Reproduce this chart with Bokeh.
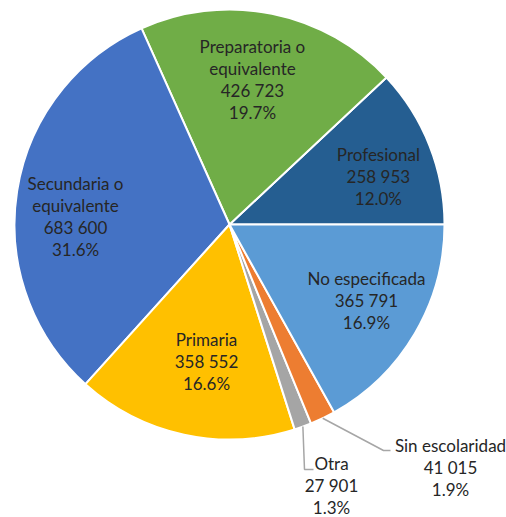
import math
from bokeh.plotting import figure
from bokeh.models import ColumnDataSource, Range1d
from bokeh.core.properties import value
from bokeh.embed import file_html
from bokeh.resources import INLINE

# ---- data (counter-clockwise from 3 o'clock) ----
categories = ["Profesional", "Preparatoria o\nequivalente", "Secundaria o\nequivalente",
              "Primaria", "Otra", "Sin escolaridad", "No especificada"]
counts = [258953, 426723, 683600, 358552, 27901, 41015, 365791]
colors = ["#255E91", "#70AD47", "#4472C4", "#FFC000", "#A5A5A5", "#ED7D31", "#5B9BD5"]

# ---- layout ----
W, H = 506, 517
def page(px, py):
    return (px, H - py)

cx, cy = page(229, 224)
R = 215
LINE_H = 22
FONT = "Lato"
FONT_SIZE = "17px"
TEXT_COLOR = "#262626"

# inside labels: (radius, angle shift in degrees from slice mid-angle)
inside_layout = {
    "Profesional": (156.5, -3.6),
    "Preparatoria o\nequivalente": (147.0, 2.4),
    "Secundaria o\nequivalente": (154.2, 5.9),
    "Primaria": (139.2, 2.7),
    "No especificada": (156.5, 1.5),
}
# outside labels: block centre, leader elbow and leader end (page pixels)
outside_layout = {
    "Otra": {"center": (331, 485), "elbow": (304, 469), "end": (313, 469)},
    "Sin escolaridad": {"center": (450, 467), "elbow": (383, 450), "end": (390, 450)},
}

total = sum(counts)
fracs = [c / total for c in counts]
starts, ends, acc = [], [], 0.0
for f in fracs:
    starts.append(2 * math.pi * acc)
    acc += f
    ends.append(2 * math.pi * acc)

p = figure(width=W, height=H, x_range=Range1d(0, W), y_range=Range1d(0, H),
           output_backend="svg", toolbar_location=None, min_border=0,
           x_axis_type=None, y_axis_type=None)
p.grid.visible = False
p.outline_line_color = None
p.background_fill_color = "white"
p.border_fill_color = "white"

wsrc = ColumnDataSource(dict(start=starts, end=ends, color=colors))
p.wedge(x=cx, y=cy, radius=R, start_angle="start", end_angle="end",
        fill_color="color", line_color="white", line_width=2, source=wsrc)

tx, ty, tt = [], [], []
lx, ly = [], []
for cat, c, f, a0, a1 in zip(categories, counts, fracs, starts, ends):
    lines = cat.split("\n") + [f"{c:,}".replace(",", " "), f"{100 * f:.1f}%"]
    mid = (a0 + a1) / 2
    if cat in inside_layout:
        r, sh = inside_layout[cat]
        ang = mid + math.radians(sh)
        bx, by = cx + r * math.cos(ang), cy + r * math.sin(ang)
    else:
        lay = outside_layout[cat]
        bx, by = page(*lay["center"])
        sx, sy = cx + R * math.cos(mid), cy + R * math.sin(mid)
        ex, ey = page(*lay["elbow"])
        fx, fy = page(*lay["end"])
        lx.append([sx, ex, fx])
        ly.append([sy, ey, fy])
    n = len(lines)
    for i, t in enumerate(lines):
        tx.append(bx)
        ty.append(by + ((n - 1) / 2 - i) * LINE_H)
        tt.append(t)

p.multi_line(xs=lx, ys=ly, line_color="#A6A6A6", line_width=1.5)
p.text(x=tx, y=ty, text=tt, text_font=value(FONT), text_font_size=FONT_SIZE,
       text_color=TEXT_COLOR, text_align="center", text_baseline="middle")

open("out.html", "w").write(file_html(p, INLINE))
